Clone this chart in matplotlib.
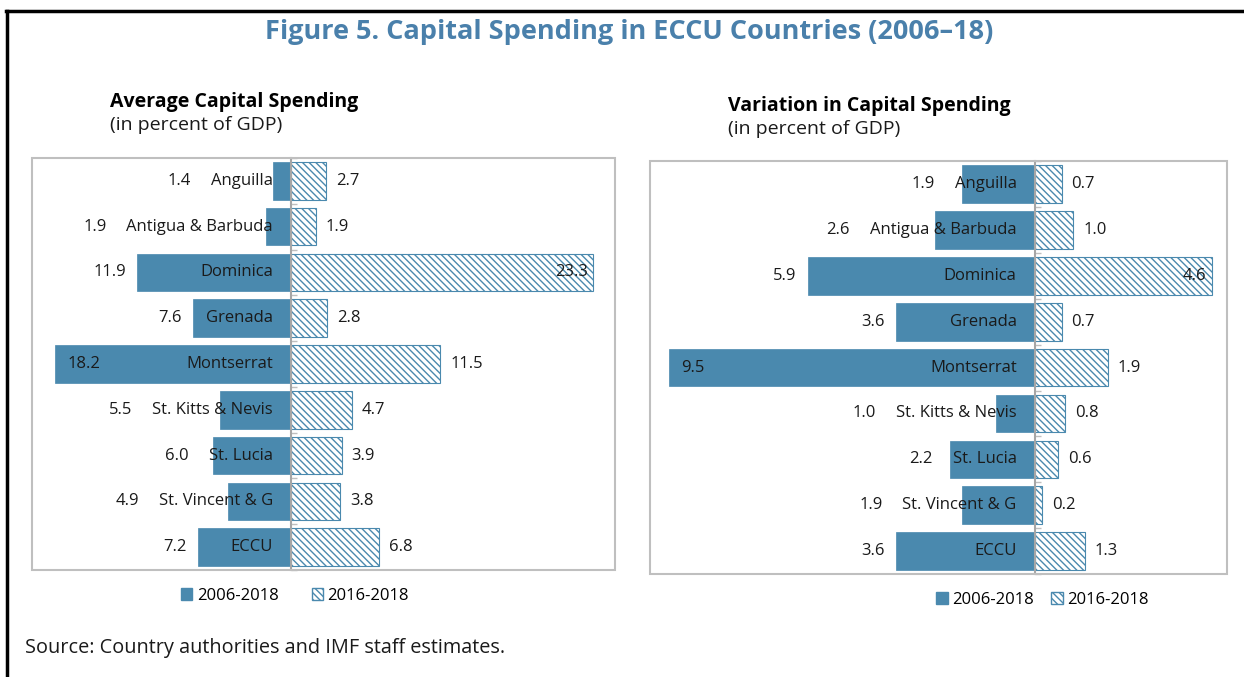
import numpy as np
import matplotlib
matplotlib.use('Agg')
import matplotlib.pyplot as plt
from matplotlib.patches import Rectangle
from matplotlib.lines import Line2D

plt.rcParams['font.family'] = ['Open Sans', 'DejaVu Sans']

# DATA
categories = ['Anguilla', 'Antigua & Barbuda', 'Dominica', 'Grenada', 'Montserrat',
              'St. Kitts & Nevis', 'St. Lucia', 'St. Vincent & G', 'ECCU']
avg_0618 = [1.4, 1.9, 11.9, 7.6, 18.2, 5.5, 6.0, 4.9, 7.2]
avg_1618 = [2.7, 1.9, 23.3, 2.8, 11.5, 4.7, 3.9, 3.8, 6.8]
var_0618 = [1.9, 2.6, 5.9, 3.6, 9.5, 1.0, 2.2, 1.9, 3.6]
var_1618 = [0.7, 1.0, 4.6, 0.7, 1.9, 0.8, 0.6, 0.2, 1.3]
series_names = ['2006-2018', '2016-2018']

BLUE = '#4a89ae'
TXT = '#1a1a1a'
LBL_SIZE = 12

fig = plt.figure(figsize=(12.44, 6.77), dpi=100)

# frame (top + left only, like the cropped page)
fig.add_artist(Line2D([0.005, 1.0], [0.984, 0.984], color='black', lw=2.5, transform=fig.transFigure))
fig.add_artist(Line2D([0.006, 0.006], [0.0, 0.984], color='black', lw=2.5, transform=fig.transFigure))

fig.text(0.506, 0.952, 'Figure 5. Capital Spending in ECCU Countries (2006\u201318)',
         ha='center', va='center', fontsize=19.5, fontweight='bold', color='#4a80ab')


def panel(rect, left, right, xlim, legend_x, colspace):
    ax = fig.add_axes(rect)
    y = np.arange(len(categories))
    ax.barh(y, [-v for v in left], height=0.82, color=BLUE, edgecolor=BLUE, lw=0.5)
    ax.barh(y, right, height=0.82, color='white', edgecolor=BLUE, hatch='\\\\\\\\\\', lw=0.8)
    ax.set_xlim(xlim)
    ax.set_ylim(len(categories) - 0.5, -0.5)

    # spine through zero with little ticks between bars
    for s in ['top', 'right', 'bottom']:
        ax.spines[s].set_visible(False)
    ax.spines['left'].set_position(('data', 0))
    ax.spines['left'].set_color('#a6a6a6')
    ax.spines['left'].set_linewidth(1.5)
    ax.set_yticks(np.arange(len(categories) + 1) - 0.5)
    ax.set_yticklabels([])
    ax.tick_params(axis='y', direction='in', length=4, color='#bfbfbf', width=1)
    ax.set_xticks([])
    ax.add_patch(Rectangle((0, 0), 1, 1, transform=ax.transAxes, fill=False,
                           edgecolor='#bfbfbf', lw=1.5, clip_on=False, zorder=5))

    fig.canvas.draw()
    r = fig.canvas.get_renderer()
    inv = ax.transData.inverted()
    px = (xlim[1] - xlim[0]) / ax.get_window_extent().width  # data units per pixel

    for i, cat in enumerate(categories):
        t = ax.text(-18 * px, i, cat, ha='right', va='center', fontsize=LBL_SIZE, color=TXT, zorder=6)
        lab_left = inv.transform(t.get_window_extent(r))[0][0]
        # left value
        s = f'{left[i]:.1f}'
        pos = min(-left[i] - 11 * px, lab_left - 20 * px)
        tv = ax.text(pos, i, s, ha='right', va='center', fontsize=LBL_SIZE, color=TXT)
        w = tv.get_window_extent(r).width * px
        if pos - w < xlim[0]:
            tv.set_x(-left[i] + 12 * px)
            tv.set_ha('left')
        # right value
        s = f'{right[i]:.1f}'
        tr = ax.text(right[i] + 10 * px, i, s, ha='left', va='center', fontsize=LBL_SIZE, color=TXT)
        w = tr.get_window_extent(r).width * px
        if right[i] + 10 * px + w > xlim[1]:
            tr.set_x(right[i] - 5 * px)
            tr.set_ha('right')

    h1 = Rectangle((0, 0), 1, 1, facecolor=BLUE, edgecolor=BLUE)
    h2 = Rectangle((0, 0), 1, 1, facecolor='white', edgecolor=BLUE, hatch='\\\\\\\\\\')
    ax.legend([h1, h2], series_names, loc='center', bbox_to_anchor=(legend_x, -0.062),
              ncol=2, frameon=False, fontsize=LBL_SIZE, handlelength=0.7, handleheight=0.7,
              handletextpad=0.25, columnspacing=colspace)
    return ax


ax1 = panel([0.0257, 0.158, 0.4687, 0.6086], avg_0618, avg_1618, (-20, 25), 0.451, 2.0)
ax2 = panel([0.5225, 0.152, 0.4638, 0.610], var_0618, var_1618, (-10, 5), 0.68, 1.05)

fig.text(110 / 1244, 1 - 102 / 677, 'Average Capital Spending', fontsize=14,
         fontweight='bold', color='black', va='center')
fig.text(110 / 1244, 1 - 125 / 677, '(in percent of GDP)', fontsize=14, color=TXT, va='center')
fig.text(728 / 1244, 1 - 106 / 677, 'Variation in Capital Spending', fontsize=14,
         fontweight='bold', color='black', va='center')
fig.text(728 / 1244, 1 - 129 / 677, '(in percent of GDP)', fontsize=14, color=TXT, va='center')

fig.text(25 / 1244, 1 - 648 / 677, 'Source: Country authorities and IMF staff estimates.',
         fontsize=14.3, color=TXT, va='center')

plt.savefig('out.png', dpi=100)
